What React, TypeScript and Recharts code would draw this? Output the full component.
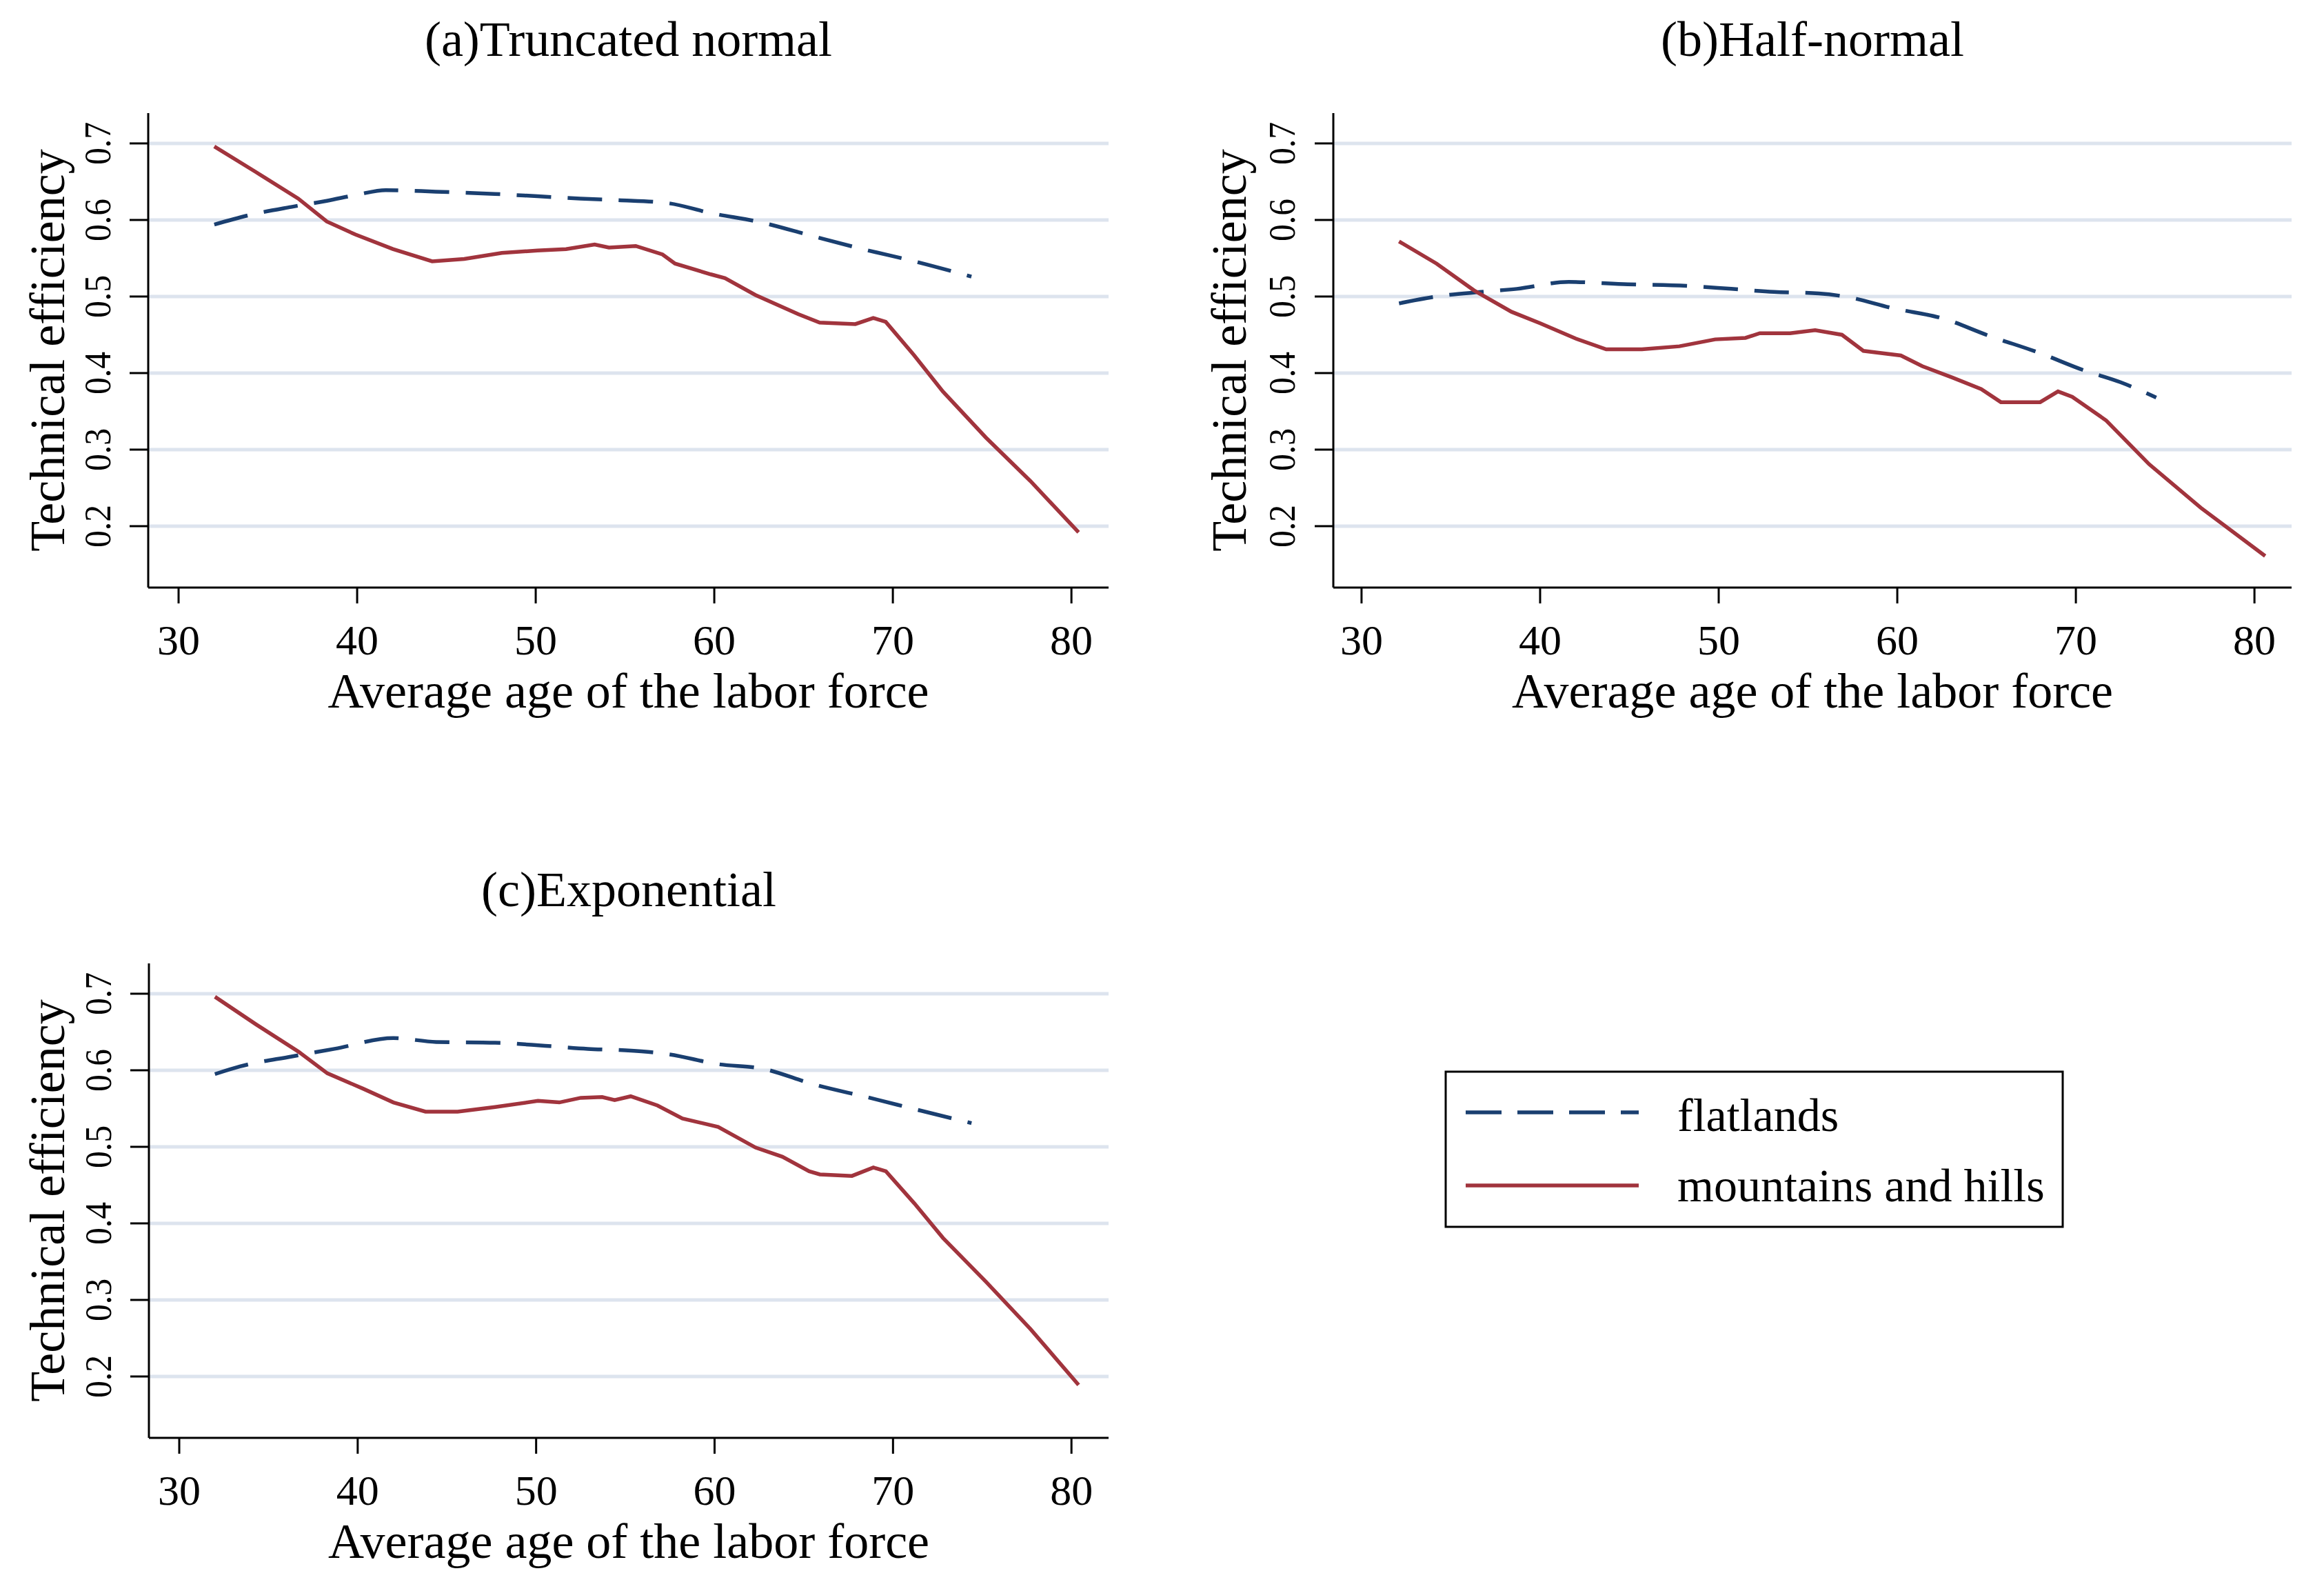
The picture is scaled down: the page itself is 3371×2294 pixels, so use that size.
import { CartesianGrid, Line, LineChart, XAxis, YAxis } from "recharts";

const SERIF = '"Liberation Serif", "Times New Roman", serif';
const NAVY = '#1a3f70';
const MAROON = '#a1343d';
const GRID = '#dde4ee';

// x ticks / y ticks
const ageTicks = [30, 40, 50, 60, 70, 80];
const teTicks = [0.2, 0.3, 0.4, 0.5, 0.6, 0.7];

// (a) Truncated normal
const ageFlatA = [32.0, 33.9, 36.3, 38.3, 40.0, 41.6, 44.4, 47.7, 50.1, 52.5, 54.6, 57.4, 59.8, 62.6, 65.5, 68.3, 71.2, 74.4];
const teFlatA = [0.594, 0.606, 0.617, 0.625, 0.633, 0.639, 0.637, 0.634, 0.631, 0.628, 0.626, 0.622, 0.609, 0.597, 0.579, 0.562, 0.546, 0.526];
const ageMountA = [32.0, 34.3, 36.7, 38.3, 39.9, 42.0, 44.2, 46.0, 48.1, 50.1, 51.7, 53.3, 54.1, 55.6, 57.1, 57.8, 59.8, 60.6, 62.3, 64.7, 65.9, 67.9, 68.9, 69.6, 71.2, 72.8, 75.2, 77.7, 80.4];
const teMountA = [0.696, 0.663, 0.628, 0.598, 0.581, 0.562, 0.546, 0.549, 0.557, 0.560, 0.562, 0.568, 0.564, 0.566, 0.555, 0.543, 0.529, 0.524, 0.502, 0.477, 0.466, 0.464, 0.472, 0.467, 0.423, 0.376, 0.316, 0.259, 0.192];

// (b) Half-normal
const ageFlatB = [32.1, 34.2, 36.7, 38.7, 41.6, 44.9, 48.2, 50.7, 53.1, 55.6, 57.3, 59.7, 62.6, 65.1, 68.0, 70.4, 72.5, 74.5];
const teFlatB = [0.491, 0.500, 0.506, 0.510, 0.519, 0.516, 0.514, 0.510, 0.506, 0.504, 0.499, 0.485, 0.471, 0.449, 0.426, 0.404, 0.388, 0.368];
const ageMountB = [32.1, 34.2, 36.3, 38.4, 40.0, 42.0, 43.7, 45.7, 47.8, 49.8, 51.5, 52.3, 54.0, 55.4, 56.9, 58.1, 60.2, 61.4, 63.1, 64.7, 65.8, 68.0, 69.0, 69.8, 71.7, 74.1, 77.0, 80.6];
const teMountB = [0.572, 0.543, 0.508, 0.480, 0.465, 0.445, 0.431, 0.431, 0.435, 0.444, 0.446, 0.452, 0.452, 0.456, 0.450, 0.429, 0.423, 0.409, 0.394, 0.379, 0.362, 0.362, 0.376, 0.369, 0.338, 0.281, 0.224, 0.161];

// (c) Exponential
const ageFlatC = [32.0, 33.4, 36.3, 38.7, 42.0, 44.4, 47.7, 50.5, 52.9, 55.0, 57.4, 60.2, 62.7, 65.5, 68.7, 71.6, 74.4];
const teFlatC = [0.595, 0.605, 0.618, 0.628, 0.642, 0.637, 0.636, 0.632, 0.628, 0.626, 0.621, 0.608, 0.602, 0.582, 0.564, 0.547, 0.531];
const ageMountC = [32.0, 34.3, 36.7, 38.3, 40.3, 42.0, 43.8, 45.6, 47.7, 50.1, 51.3, 52.5, 53.7, 54.4, 55.3, 56.8, 58.2, 60.2, 62.3, 63.8, 65.3, 65.9, 67.7, 68.9, 69.6, 71.2, 72.8, 75.2, 77.7, 80.4];
const teMountC = [0.696, 0.660, 0.624, 0.596, 0.576, 0.558, 0.546, 0.546, 0.552, 0.560, 0.558, 0.564, 0.565, 0.561, 0.566, 0.554, 0.537, 0.526, 0.499, 0.487, 0.468, 0.464, 0.462, 0.473, 0.468, 0.426, 0.381, 0.324, 0.262, 0.189];

const toPoints = (xs: number[], ys: number[]) => xs.map((x, i) => ({ x, y: ys[i] }));

const YTick = ({ x, y, payload }: any) => (
  <text
    transform={`translate(${x},${y}) rotate(-90) scale(0.92,1)`}
    textAnchor="middle"
    fontFamily={SERIF}
    fontSize={54}
    fill="#000"
  >
    {Number(payload.value).toFixed(1)}
  </text>
);

interface PanelProps {
  left: number;
  top: number;
  width: number;
  plotLeft: number;
  plotRight: number;
  yTitleX: number;
  yTickGap: number;
  title: string;
  flat: { x: number; y: number }[];
  mount: { x: number; y: number }[];
  xDomain: [number, number];
}

const H = 1060;
const PLOT_TOP = 164;
const PLOT_BOTTOM = 852;

const Panel = ({ left, top, width, plotLeft, plotRight, yTitleX, yTickGap, title, flat, mount, xDomain }: PanelProps) => {
  const cx = (plotLeft + plotRight) / 2;
  const cy = (PLOT_TOP + PLOT_BOTTOM) / 2;
  return (
    <div style={{ position: 'absolute', left, top, width, height: H }}>
      <LineChart
        width={width}
        height={H}
        margin={{ top: PLOT_TOP, right: width - plotRight, bottom: 0, left: 0 }}
      >
        <CartesianGrid vertical={false} horizontalValues={teTicks} stroke={GRID} strokeWidth={5} />
        <XAxis
          type="number"
          dataKey="x"
          domain={xDomain}
          ticks={ageTicks}
          allowDataOverflow
          height={H - PLOT_BOTTOM}
          tickSize={23}
          tickMargin={30}
          axisLine={{ stroke: '#000', strokeWidth: 3 }}
          tickLine={{ stroke: '#000', strokeWidth: 3 }}
          tick={{ fontSize: 62, fill: '#000', fontFamily: SERIF }}
        />
        <YAxis
          type="number"
          dataKey="y"
          domain={[0.1198, 0.7396]}
          ticks={teTicks}
          allowDataOverflow
          width={plotLeft}
          tickSize={27}
          tickMargin={yTickGap}
          axisLine={{ stroke: '#000', strokeWidth: 3 }}
          tickLine={{ stroke: '#000', strokeWidth: 3 }}
          tick={<YTick />}
        />
        <Line
          data={flat}
          dataKey="y"
          type="monotone"
          stroke={NAVY}
          strokeWidth={5.5}
          strokeDasharray="50 24"
          dot={false}
          isAnimationActive={false}
        />
        <Line
          data={mount}
          dataKey="y"
          type="linear"
          stroke={MAROON}
          strokeWidth={5.5}
          dot={false}
          isAnimationActive={false}
        />
      </LineChart>
      <svg
        width={width}
        height={H}
        style={{ position: 'absolute', left: 0, top: 0, pointerEvents: 'none' }}
      >
        <text x={cx} y={81} textAnchor="middle" fontFamily={SERIF} fontSize={72} fill="#000">
          {title}
        </text>
        <text x={cx} y={1026} textAnchor="middle" fontFamily={SERIF} fontSize={72} fill="#000">
          Average age of the labor force
        </text>
        <text
          transform={`translate(${yTitleX},${cy}) rotate(-90)`}
          textAnchor="middle"
          fontFamily={SERIF}
          fontSize={72}
          fill="#000"
        >
          Technical efficiency
        </text>
      </svg>
    </div>
  );
};

const LegendBox = () => (
  <svg width={900} height={230} style={{ position: 'absolute', left: 2095, top: 1552 }}>
    <rect x={2} y={2} width={895} height={225} fill="#fff" stroke="#000" strokeWidth={3} />
    <line x1={31} x2={282} y1={61} y2={61} stroke={NAVY} strokeWidth={5.5} strokeDasharray="52 23" />
    <line x1={31} x2={282} y1={167} y2={167} stroke={MAROON} strokeWidth={5.5} />
    <text x={338} y={88} fontFamily={SERIF} fontSize={68} fill="#000">flatlands</text>
    <text x={338} y={190} fontFamily={SERIF} fontSize={68} fill="#000">mountains and hills</text>
  </svg>
);

const App = () => (
  <div
    style={{
      position: 'absolute',
      left: 0,
      top: 0,
      width: 3371,
      height: 2294,
      background: '#fff',
      overflow: 'hidden',
    }}
  >
    <Panel
      left={0}
      top={0}
      width={1700}
      plotLeft={215}
      plotRight={1608}
      yTitleX={93}
      yTickGap={28}
      title="(a)Truncated normal"
      flat={toPoints(ageFlatA, teFlatA)}
      mount={toPoints(ageMountA, teMountA)}
      xDomain={[28.3, 82.08]}
    />
    <Panel
      left={1700}
      top={0}
      width={1671}
      plotLeft={234}
      plotRight={1624}
      yTitleX={107}
      yTickGap={29}
      title="(b)Half-normal"
      flat={toPoints(ageFlatB, teFlatB)}
      mount={toPoints(ageMountB, teMountB)}
      xDomain={[28.42, 82.08]}
    />
    <Panel
      left={0}
      top={1233}
      width={1700}
      plotLeft={216}
      plotRight={1608}
      yTitleX={93}
      yTickGap={28}
      title="(c)Exponential"
      flat={toPoints(ageFlatC, teFlatC)}
      mount={toPoints(ageMountC, teMountC)}
      xDomain={[28.3, 82.08]}
    />
    <LegendBox />
  </div>
);

export default App;
